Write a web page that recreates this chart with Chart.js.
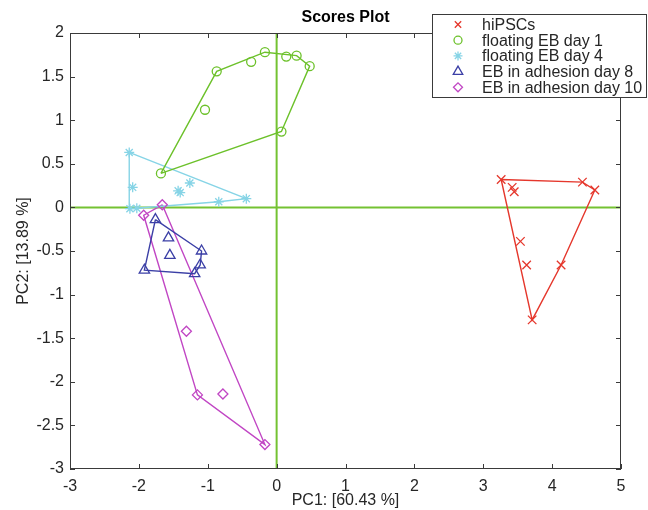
<!DOCTYPE html>
<html>
<head>
<meta charset="utf-8">
<script src="https://cdn.jsdelivr.net/npm/chart.js@4.4.1/dist/chart.umd.min.js"></script>
<style>
  body { margin: 0; background: #fff; }
</style>
</head>
<body>
<canvas id="grafico" width="648" height="510"></canvas>
<script>
// grupos e valores (PC1, PC2)
const grupos = ['hiPSCs', 'floating EB day 1', 'floating EB day 4', 'EB in adhesion day 8', 'EB in adhesion day 10'];

const hipscsX = [3.26, 3.42, 3.45, 4.44, 4.62, 3.54, 3.63, 4.13, 3.71];
const hipscsY = [0.32, 0.23, 0.18, 0.29, 0.20, -0.39, -0.66, -0.66, -1.29];
const hipscsHull = [0, 3, 4, 7, 8, 0];

const dia1X = [-1.68, -0.87, -1.04, -0.37, -0.17, 0.14, 0.29, 0.48, 0.07];
const dia1Y = [0.39, 1.56, 1.12, 1.67, 1.78, 1.73, 1.74, 1.62, 0.87];
const dia1Hull = [0, 1, 4, 6, 7, 8, 0];

const dia4X = [-2.14, -2.09, -2.13, -2.03, -1.26, -1.43, -1.40, -0.84, -0.44];
const dia4Y = [0.63, 0.23, -0.015, -0.01, 0.28, 0.19, 0.17, 0.065, 0.10];
const dia4Hull = [0, 8, 7, 2, 0];

const dia8X = [-1.76, -1.57, -1.55, -1.92, -1.09, -1.11, -1.19];
const dia8Y = [-0.14, -0.35, -0.55, -0.72, -0.50, -0.66, -0.76];
const dia8Hull = [0, 4, 5, 6, 3, 0];

const dia10X = [-1.66, -1.93, -1.31, -1.15, -0.78, -0.17];
const dia10Y = [0.03, -0.09, -1.42, -2.15, -2.14, -2.72];
const dia10Hull = [0, 5, 3, 1, 0];

const xTicks = [-3, -2, -1, 0, 1, 2, 3, 4, 5];
const yTicks = [-3, -2.5, -2, -1.5, -1, -0.5, 0, 0.5, 1, 1.5, 2];

const cores = ['#e5372c', '#6cc12a', '#86d4e6', '#3b3fa6', '#c146c4'];
const estilos = ['crossRot', 'circle', 'star', 'triangle', 'rectRot'];
const raios = [6, 4.5, 5, 6, 5];
const corZero = '#74c232';
const corTexto = '#262626';

const todosX = [hipscsX, dia1X, dia4X, dia8X, dia10X];
const todosY = [hipscsY, dia1Y, dia4Y, dia8Y, dia10Y];
const todosHull = [hipscsHull, dia1Hull, dia4Hull, dia8Hull, dia10Hull];

function pontos(xs, ys) {
  return xs.map((x, i) => ({ x: x, y: ys[i] }));
}

let datasets = [];
// linhas do zero
datasets.push({
  label: 'zeroX', data: [{ x: -3, y: 0 }, { x: 5, y: 0 }],
  showLine: true, borderColor: corZero, borderWidth: 2, pointRadius: 0, order: 10,
});
datasets.push({
  label: 'zeroY', data: [{ x: 0, y: -3 }, { x: 0, y: 2 }],
  showLine: true, borderColor: corZero, borderWidth: 2, pointRadius: 0, order: 10,
});

for (let g = 0; g < grupos.length; g++) {
  let pts = pontos(todosX[g], todosY[g]);
  datasets.push({
    label: grupos[g] + ' hull',
    data: todosHull[g].map(i => pts[i]),
    showLine: true, borderColor: cores[g], borderWidth: 1.4, pointRadius: 0, order: 5,
  });
  datasets.push({
    label: grupos[g],
    data: pts,
    pointStyle: estilos[g], pointRadius: raios[g],
    borderColor: cores[g], backgroundColor: 'rgba(0,0,0,0)', pointBorderWidth: 1.3,
    order: 1,
  });
}

const molduraPlugin = {
  id: 'moldura',
  afterDraw(chart) {
    const ctx = chart.ctx;
    const a = chart.chartArea;
    const sx = chart.scales.x, sy = chart.scales.y;
    ctx.save();
    ctx.strokeStyle = '#3a3a3a';
    ctx.lineWidth = 1;
    ctx.strokeRect(a.left + 0.5, a.top + 0.5, a.right - a.left - 1, a.bottom - a.top - 1);
    ctx.beginPath();
    xTicks.forEach(v => {
      let px = Math.round(sx.getPixelForValue(v)) + 0.5;
      ctx.moveTo(px, a.bottom); ctx.lineTo(px, a.bottom - 5);
      ctx.moveTo(px, a.top); ctx.lineTo(px, a.top + 5);
    });
    yTicks.forEach(v => {
      let py = Math.round(sy.getPixelForValue(v)) + 0.5;
      ctx.moveTo(a.left, py); ctx.lineTo(a.left + 5, py);
      ctx.moveTo(a.right, py); ctx.lineTo(a.right - 5, py);
    });
    ctx.stroke();

    // titulo
    ctx.fillStyle = '#000';
    ctx.font = 'bold 16px "Liberation Sans", Arial, sans-serif';
    ctx.textAlign = 'center';
    ctx.textBaseline = 'middle';
    ctx.fillText('Scores Plot', (a.left + a.right) / 2, 18);

    // legenda
    const lx = 432, ly = 14, lw = 215, lh = 84;
    ctx.fillStyle = '#fff';
    ctx.fillRect(lx, ly, lw, lh);
    ctx.strokeStyle = '#3a3a3a';
    ctx.strokeRect(lx + 0.5, ly + 0.5, lw - 1, lh - 1);
    for (let g = 0; g < grupos.length; g++) {
      let yy = 24.5 + g * 15.7;
      ctx.strokeStyle = cores[g];
      ctx.lineWidth = 1.3;
      ctx.fillStyle = 'rgba(0,0,0,0)';
      let r = g === 0 ? 4.5 : raios[g] - 0.5;
      Chart.helpers.drawPoint(ctx, {
        pointStyle: estilos[g], radius: r, borderWidth: 1.3, rotation: 0,
      }, 458, yy);
      ctx.fillStyle = corTexto;
      ctx.font = '16px "Liberation Sans", Arial, sans-serif';
      ctx.textBaseline = 'middle';
      ctx.textAlign = 'left';
      ctx.fillText(grupos[g], 482, yy + 1);
    }
    ctx.restore();
  },
};

function criarGrafico() {
  const canvas = document.getElementById('grafico');
  let contexto = canvas.getContext('2d');
  const fonteEixo = { family: '"Liberation Sans", Arial, sans-serif', size: 16 };

  new Chart(contexto, {
    type: 'scatter',
    data: { datasets: datasets },
    options: {
      responsive: false,
      animation: false,
      devicePixelRatio: 1,
      layout: { padding: { top: 33, right: 27, left: 0, bottom: 0 } },
      plugins: { legend: { display: false }, tooltip: { enabled: false } },
      scales: {
        x: {
          min: -3, max: 5,
          afterFit: (s) => { s.height = 41; },
          afterBuildTicks: (s) => { s.ticks = xTicks.map(v => ({ value: v })); },
          grid: { display: false, drawTicks: false },
          border: { display: false },
          ticks: { font: fonteEixo, color: corTexto, padding: 8, maxRotation: 0, callback: (v) => String(v) },
          title: { display: true, text: 'PC1: [60.43 %]', font: fonteEixo, color: corTexto, padding: { top: 0, bottom: 0 } },
        },
        y: {
          min: -3, max: 2,
          afterFit: (s) => { s.width = 70; },
          afterBuildTicks: (s) => { s.ticks = yTicks.map(v => ({ value: v })); },
          grid: { display: false, drawTicks: false },
          border: { display: false },
          ticks: { font: fonteEixo, color: corTexto, padding: 6, callback: (v) => String(v) },
          title: { display: true, text: 'PC2: [13.89 %]', font: fonteEixo, color: corTexto, padding: { top: 14, bottom: 0 } },
        },
      },
    },
    plugins: [molduraPlugin],
  });
}

document.addEventListener('DOMContentLoaded', criarGrafico);
</script>
</body>
</html>
